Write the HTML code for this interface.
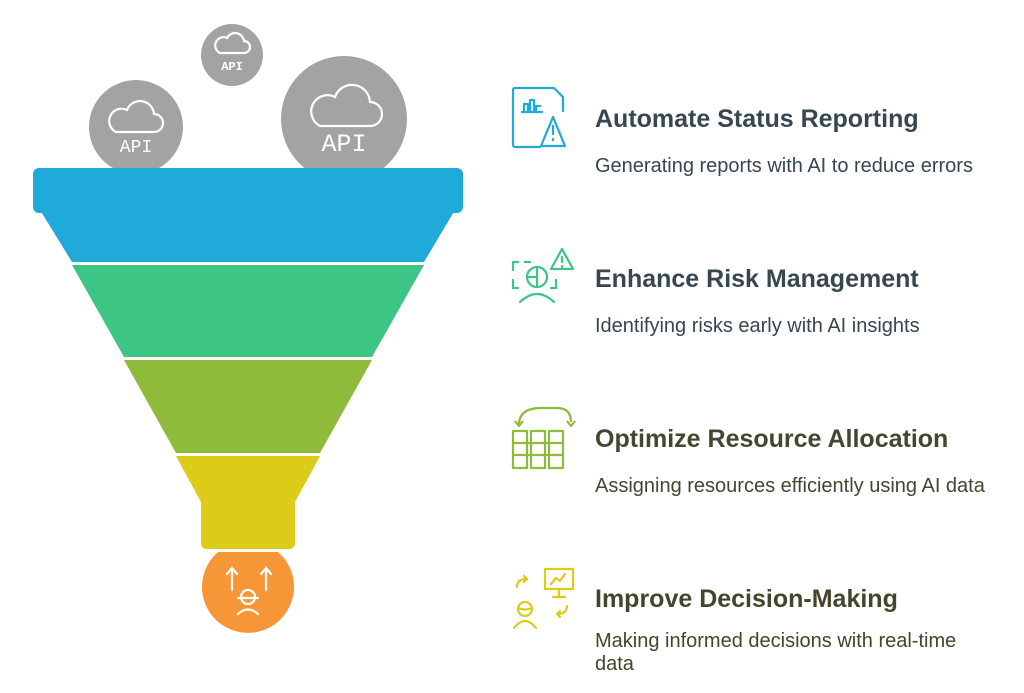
<!DOCTYPE html>
<html><head><style>
body{margin:0;width:1024px;height:693px;background:#fff;overflow:hidden;position:relative;font-family:"Liberation Sans",sans-serif}
.t{position:absolute;left:595px;font-weight:bold;font-size:25px;white-space:nowrap}
.s{position:absolute;left:595px;font-size:20px;line-height:23px;white-space:nowrap}
</style></head><body>
<svg width="1024" height="693" style="position:absolute;left:0;top:0">
<g fill="#a3a3a3"><circle cx="136" cy="127" r="47"/><circle cx="232" cy="55" r="31"/><circle cx="344" cy="119" r="63"/></g>
<g fill="none" stroke="#fff" stroke-width="2.2" stroke-linecap="round">
<path d="M116 132 h38 a9 9 0 0 0 0-18 a14 14 0 0 0-27-4 a9 9 0 0 0-11 22z"/>
<path d="M220 53 h24 a6 6 0 0 0 0-12 a9 9 0 0 0-17-3 a6 6 0 0 0-7 15z"/>
<path d="M320 126 h50 a12 12 0 0 0 0-24 a18 18 0 0 0-35-5 a12 12 0 0 0-15 29z"/>
</g>
<g fill="#fff" font-family="Liberation Mono,monospace" text-anchor="middle">
<text x="136" y="152" font-size="18">API</text>
<text x="232" y="70" font-size="12" font-weight="bold">API</text>
<text x="344" y="151" font-size="25">API</text>
</g>
<path d="M40 210 L455 210 L424 262 L72 262Z" fill="#1faad9"/>
<rect x="33" y="168" width="430" height="45" rx="6" fill="#1faad9"/>
<path d="M72 265 L424 265 L372 357 L124 357Z" fill="#3dc585"/>
<path d="M124 360 L372 360 L320 453 L176 453Z" fill="#8fbb3a"/>
<path d="M176 456 L320 456 L295 502 L295 543 Q295 549 289 549 L207 549 Q201 549 201 543 L201 502Z" fill="#dccc18"/>
<path d="M218 552 L278 552 A46 46 0 1 1 218 552Z" fill="#f79637"/>
<g fill="none" stroke="#fff" stroke-width="2.2" stroke-linecap="round">
<path d="M232 590 v-22 m-5 6 l5-6 5 6 M266 590 v-22 m-5 6 l5-6 5 6"/>
<circle cx="248" cy="597" r="7"/><path d="M238 598 h20 M238 614 q10-9 20 0"/>
</g>
<g fill="none" stroke="#1faad9" stroke-width="2.2" stroke-linecap="round" stroke-linejoin="round">
<path d="M540 147 h-25 a2 2 0 0 1-2-2 v-55 a2 2 0 0 1 2-2 h39 l9 9 v14"/>
<path d="M522 112 h20 M524 112 v-8 h4 v8 M530 112 v-12 h4 v12 M536 112 v-6 h4"/>
<path d="M553 117 l-12 29 h24z M553 126 v8 M553 139 v1"/>
</g>
<g fill="none" stroke="#3dc585" stroke-width="2.2" stroke-linecap="round" stroke-linejoin="round">
<path d="M513 262 h5 M513 262 v8 M513 280 v8 h5 M556 280 v8 h-5 M530 262 h-5"/>
<circle cx="537" cy="277" r="10"/><path d="M537 267 v20 M527 277 h10"/>
<path d="M520 302 q17-16 34 0"/>
<path d="M562 249 l-11 20 h22z M562 257 v5 M562 266 v1"/>
</g>
<g fill="none" stroke="#8fbb3a" stroke-width="2.2" stroke-linejoin="round">
<path d="M519 425 q0-17 22-17 h16 q14 0 14 14 M515 421 l4 5 4-5 M567 421 l4 5 4-5"/>
<rect x="513" y="431" width="14" height="37"/><rect x="531" y="431" width="14" height="37"/><rect x="549" y="431" width="14" height="37"/>
<path d="M513 443 h50 M513 455 h50"/>
</g>
<g fill="none" stroke="#dccc18" stroke-width="2.2" stroke-linecap="round" stroke-linejoin="round">
<rect x="545" y="569" width="28" height="20"/><path d="M551 584 l5-6 4 3 5-7 M559 589 v8 M553 597 h12"/>
<path d="M517 587 q0-8 10-8 m-3-3 l3 3-3 3 M567 606 q0 8-10 8 m3 3 l-3-3 3-3"/>
<circle cx="525" cy="609" r="7"/><path d="M518 608 q7 3 14 0 M514 628 q11-14 22 0"/>
</g>
</svg>
<div class="t" style="top:105px;color:#37474f">Automate Status Reporting</div>
<div class="s" style="top:155px;color:#37474f">Generating reports with AI to reduce errors</div>
<div class="t" style="top:265px;color:#37474f">Enhance Risk Management</div>
<div class="s" style="top:315px;color:#37474f">Identifying risks early with AI insights</div>
<div class="t" style="top:425px;color:#43472f">Optimize Resource Allocation</div>
<div class="s" style="top:475px;color:#43472f">Assigning resources efficiently using AI data</div>
<div class="t" style="top:585px;color:#45452c">Improve Decision-Making</div>
<div class="s" style="top:630px;color:#45452c">Making informed decisions with real-time<br>data</div>
</body></html>
